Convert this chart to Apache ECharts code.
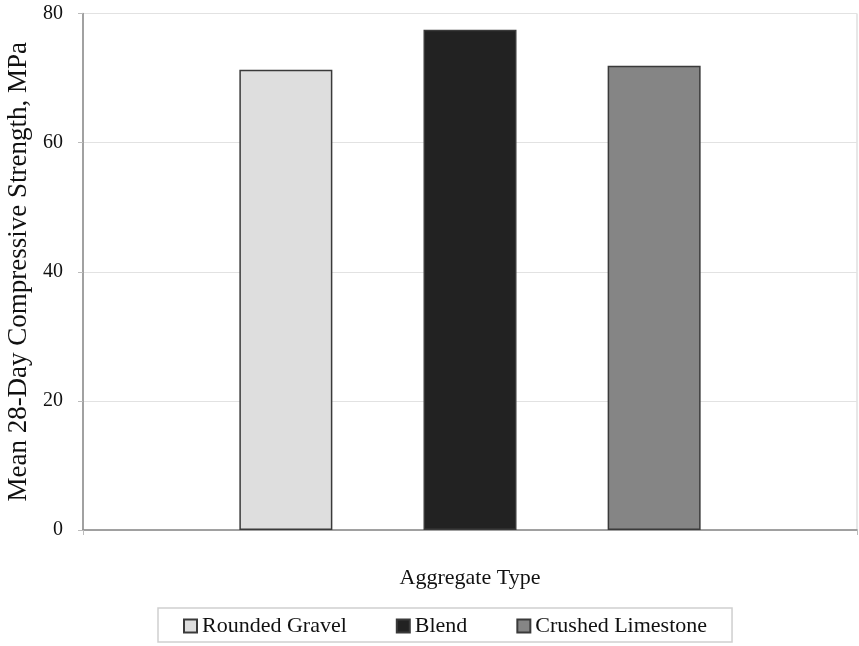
<!DOCTYPE html>
<html>
<head>
<meta charset="utf-8">
<script src="https://cdn.jsdelivr.net/npm/echarts@6/dist/echarts.min.js"></script>
<style>
html,body{margin:0;padding:0;background:#fff;}
#chart{width:859px;height:646px;}
</style>
</head>
<body>
<div id="chart"></div>
<script>
var categories = ['Aggregate Type'];
var seriesNames = ['Rounded Gravel', 'Blend', 'Crushed Limestone'];
var seriesValues = [71.3, 77.5, 71.9];
var seriesColors = ['#dedede', '#222222', '#858585'];
var yTicks = [0, 20, 40, 60, 80];

var FONT = '"Liberation Serif", "DejaVu Serif", serif';
var chart = echarts.init(document.getElementById('chart'), null, {renderer: 'canvas'});

var series = seriesNames.map(function (name, i) {
  return {
    name: name,
    type: 'bar',
    data: [seriesValues[i]],
    barWidth: 93,
    barGap: '98%',
    itemStyle: {color: seriesColors[i], borderColor: '#3a3a3a', borderWidth: 1.5},
    emphasis: {disabled: true}
  };
});

chart.setOption({
  animation: false,
  textStyle: {fontFamily: FONT, color: '#111'},
  grid: {left: 83, right: 2, top: 13.5, bottom: 116, containLabel: false, outerBoundsMode: 'none', show: true, borderColor: '#cfcfcf', borderWidth: 1, backgroundColor: 'transparent'},
  legend: {
    data: seriesNames,
    left: 158,
    top: 608,
    padding: [7, 25, 5, 25],
    itemGap: 49,
    itemWidth: 13,
    itemHeight: 13,
    icon: 'rect',
    borderColor: '#cfcfcf',
    borderWidth: 1.5,
    textStyle: {fontFamily: FONT, fontSize: 22, color: '#111'}
  },
  xAxis: {
    type: 'category',
    data: categories,
    name: 'Aggregate Type',
    nameLocation: 'middle',
    nameGap: 37,
    nameTextStyle: {fontFamily: FONT, fontSize: 22, color: '#111'},
    axisLine: {lineStyle: {color: '#8a8a8a', width: 1.5}},
    axisTick: {show: true, length: 5, lineStyle: {color: '#bbb'}},
    axisLabel: {show: false}
  },
  yAxis: {
    type: 'value',
    min: 0,
    max: 80,
    interval: 20,
    name: 'Mean 28-Day Compressive Strength, MPa',
    nameLocation: 'middle',
    nameGap: 51,
    nameTextStyle: {fontFamily: FONT, fontSize: 27, color: '#111'},
    axisLine: {show: true, lineStyle: {color: '#8a8a8a', width: 1.5}},
    axisTick: {show: true, length: 5, lineStyle: {color: '#bbb'}},
    axisLabel: {
      fontFamily: FONT, fontSize: 20, color: '#111', margin: 20,
      formatter: function (v) { return yTicks.indexOf(v) >= 0 ? String(v) : ''; }
    },
    splitLine: {show: true, lineStyle: {color: '#e2e2e2', width: 1}}
  },
  series: series
});
</script>
</body>
</html>
